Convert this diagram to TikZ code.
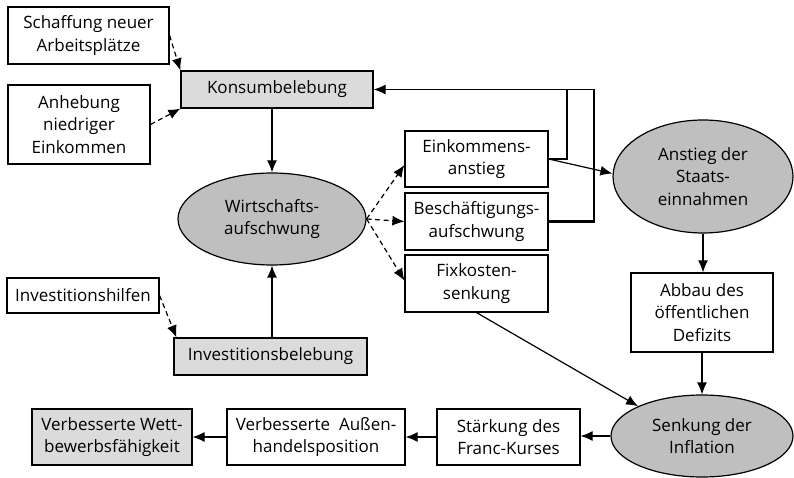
\documentclass[tikz,border=0pt]{standalone}
\usepackage{fontspec}
\setmainfont{Open Sans}
\usetikzlibrary{shapes.geometric,arrows.meta}
\definecolor{boxgrey}{gray}{0.86}
\definecolor{ellgrey}{gray}{0.75}
\begin{document}
\begin{tikzpicture}[x=1pt,y=-1pt,
  font=\fontsize{17}{22.5}\selectfont,
  box/.style={draw, line width=1.2pt, rectangle, inner sep=0pt, align=center, fill=white},
  gbox/.style={box, fill=boxgrey},
  ell/.style={draw, line width=1.2pt, ellipse, fill=ellgrey, inner sep=0pt, align=center},
  arr/.style={line width=1.2pt, -{Latex[length=12pt,width=10pt]}},
  darr/.style={arr, dash pattern=on 5pt off 3.5pt}]
\useasboundingbox (0,0) rectangle (794,478);

\node[box, minimum width=161pt, minimum height=57pt] (schaff) at (88.5,35.5) {Schaffung neuer\\Arbeitsplätze};
\node[box, minimum width=142pt, minimum height=79pt] (anheb) at (79,124.5) {Anhebung\\niedriger\\Einkommen};
\node[gbox, minimum width=192pt, minimum height=37pt] (konsum) at (277,89.5) {Konsumbelebung};
\node[ell, minimum width=188pt, minimum height=92pt] (wirt) at (272,219) {Wirtschafts-\\aufschwung};
\node[box, minimum width=143pt, minimum height=56pt] (eink) at (476.5,159) {Einkommens-\\anstieg};
\node[box, minimum width=143pt, minimum height=57pt] (besch) at (476.5,221.5) {Beschäftigungs-\\aufschwung};
\node[box, minimum width=143pt, minimum height=57pt] (fix) at (476.5,283.5) {Fixkosten-\\senkung};
\node[ell, minimum width=180pt, minimum height=113pt] (staats) at (703,176.5) {Anstieg der\\Staats-\\einnahmen};
\node[box, minimum width=142pt, minimum height=79pt] (abbau) at (702,312.5) {Abbau des\\öffentlichen\\Defizits};
\node[ell, minimum width=182pt, minimum height=82pt] (senk) at (702,436) {Senkung der\\Inflation};
\node[box, minimum width=143pt, minimum height=56pt] (staerk) at (508.5,437) {Stärkung des\\Franc-Kurses};
\node[box, minimum width=178pt, minimum height=56pt] (aussen) at (316,437) {Verbesserte\ \ Außen-\\handelsposition};
\node[gbox, minimum width=160pt, minimum height=56pt] (wett) at (112,437) {Verbesserte Wett-\\bewerbsfähigkeit};
\node[box, minimum width=152pt, minimum height=35pt] (invhilf) at (83,295.5) {Investitionshilfen};
\node[gbox, minimum width=193pt, minimum height=37pt] (invbel) at (270.5,356.5) {Investitionsbelebung};

\coordinate (fbA) at (567,89.5);
\coordinate (fbB) at (594,89.5);

\draw[darr] (schaff.east) -- (konsum.north west);
\draw[darr] (anheb.east) -- (konsum.south west);
\draw[arr] (wirt.north |- konsum.south) -- (wirt.north);
\draw[arr] (wirt.south |- invbel.north) -- (wirt.south);
\draw[darr] (invhilf.east) -- ([xshift=3pt]invbel.north west);
\draw[darr] (wirt.east) -- ([yshift=-6pt]eink.west);
\draw[darr] (wirt.east) -- (besch.west);
\draw[darr] (wirt.east) -- ([yshift=3pt]fix.west);
\draw[arr] (eink.east) -- ([yshift=3pt]staats.west);
\draw[line width=1.2pt] (eink.east) -| (fbA);
\draw[line width=2.6pt] (besch.east) -| (fbB);
\draw[arr] (fbB) -- (konsum.east);
\draw[arr] (staats.south) -- (staats.south |- abbau.north);
\draw[arr] (abbau.south) -- (abbau.south |- senk.north);
\draw[arr] (fix.south) -- (senk.155);
\draw[arr] (senk.west) -- (senk.west -| staerk.east);
\draw[arr] (staerk.west) -- (staerk.west -| aussen.east);
\draw[arr] (aussen.west) -- (aussen.west -| wett.east);
\end{tikzpicture}
\end{document}
